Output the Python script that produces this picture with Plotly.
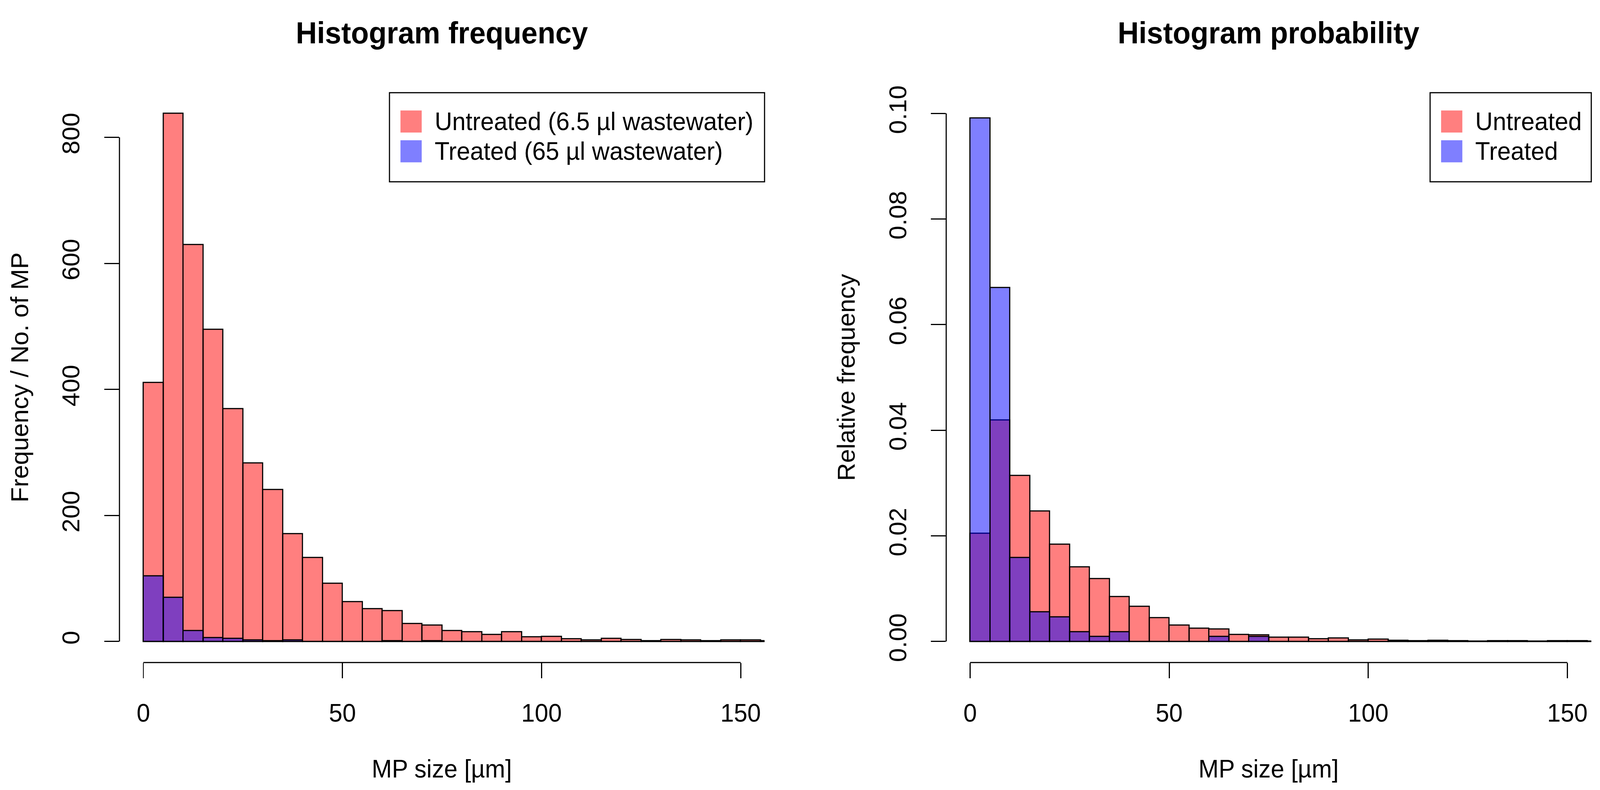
import plotly.graph_objects as go

W, H = 4219, 2022

# histogram bins, 5 µm wide (left edges)
bin_left = [0, 5, 10, 15, 20, 25, 30, 35, 40, 45, 50, 55, 60, 65, 70, 75,
            80, 85, 90, 95, 100, 105, 110, 115, 120, 125, 130, 135, 140, 145, 150, 155]

# counts (left panel)
untreated_freq = [411, 838, 630, 495, 369, 283, 241, 171, 133, 92, 63, 52, 49, 28, 26, 17,
                  15, 11, 15, 7, 8, 4, 2, 5, 3, 1, 3, 2, 1, 2, 2, 1]
treated_freq = [104, 70, 17, 6, 5, 2, 1, 2, 0, 0, 0, 0, 1, 0, 1, 0,
                0, 0, 0, 0, 0, 0, 0, 0, 0, 0, 0, 0, 0, 0, 0, 0]

# relative frequency (right panel)
untreated_prob = [0.0205, 0.0419, 0.0314, 0.0247, 0.0184, 0.0141, 0.0119, 0.0085,
                  0.0066, 0.0045, 0.0031, 0.0025, 0.0023, 0.0013, 0.0012, 0.0008,
                  0.0008, 0.0005, 0.0006, 0.0003, 0.0004, 0.0002, 0.0001, 0.0002,
                  0.0001, 0.00005, 0.0001, 0.0001, 0.00005, 0.0001, 0.0001, 0.00005]
treated_prob = [0.0991, 0.0670, 0.0159, 0.0056, 0.0046, 0.0018, 0.0009, 0.0018,
                0, 0, 0, 0, 0.0009, 0, 0.0009, 0,
                0, 0, 0, 0, 0, 0, 0, 0, 0, 0, 0, 0, 0, 0, 0, 0]

x_ticks = [0, 50, 100, 150]
freq_ticks = [0, 200, 400, 600, 800]
prob_ticks = [0, 0.02, 0.04, 0.06, 0.08, 0.10]

RED = "rgba(255,0,0,0.5)"
BLUE = "rgba(0,0,255,0.5)"
FONT = "Liberation Sans, Arial, Helvetica, sans-serif"
FS = 64
LW = 3


def px(x):
    return x / W


def py(y):
    return 1 - y / H


# plot regions (pixels)
left_dom = [px(315), px(2016)]
right_dom = [px(2495), px(4196)]
y_dom = [py(1693), py(221)]
x_range = [-6, 156]
freq_range = [-33.5, 871.5]
prob_range = [-0.004, 0.104]


def to_paper(dom, rng, v):
    return dom[0] + (v - rng[0]) / (rng[1] - rng[0]) * (dom[1] - dom[0])


fig = go.Figure()


def add_hist(vals, color, name, xa, ya):
    fig.add_trace(go.Bar(
        x=bin_left, y=vals, width=5, offset=0, name=name,
        marker=dict(color=color, line=dict(color="black", width=LW)),
        xaxis=xa, yaxis=ya, showlegend=False))


add_hist(untreated_freq, RED, "Untreated", "x", "y")
add_hist(treated_freq, BLUE, "Treated", "x", "y")
add_hist(untreated_prob, RED, "Untreated", "x2", "y2")
add_hist(treated_prob, BLUE, "Treated", "x2", "y2")

axis_common = dict(showline=False, showgrid=False, zeroline=False, ticks="outside",
                   ticklen=39, tickwidth=LW, tickcolor="black",
                   tickfont=dict(family=FONT, size=FS, color="black"))

fig.update_layout(
    width=W, height=H, autosize=False,
    margin=dict(l=0, r=0, t=0, b=0),
    paper_bgcolor="white", plot_bgcolor="white",
    barmode="overlay", bargap=0,
    font=dict(family=FONT, size=FS, color="black"),
    xaxis=dict(domain=left_dom, range=x_range, anchor="y", tickvals=x_ticks,
               ticklabelstandoff=34, **axis_common),
    yaxis=dict(domain=y_dom, range=freq_range, anchor="x", tickvals=freq_ticks,
               tickangle=-90, ticklabelstandoff=40, **axis_common),
    xaxis2=dict(domain=right_dom, range=x_range, anchor="y2", tickvals=x_ticks,
                ticklabelstandoff=34, **axis_common),
    yaxis2=dict(domain=y_dom, range=prob_range, anchor="x2", tickvals=prob_ticks,
                tickformat=".2f", tickangle=-90, ticklabelstandoff=40, **axis_common),
)

shapes = []
annotations = []

# R-style axis lines spanning first to last tick
for dom, rng, ydom, yrng, yt in [(left_dom, x_range, y_dom, freq_range, freq_ticks),
                                  (right_dom, x_range, y_dom, prob_range, prob_ticks)]:
    shapes.append(dict(type="line", xref="paper", yref="paper",
                       x0=to_paper(dom, rng, x_ticks[0]), x1=to_paper(dom, rng, x_ticks[-1]),
                       y0=ydom[0], y1=ydom[0], line=dict(color="black", width=LW)))
    shapes.append(dict(type="line", xref="paper", yref="paper",
                       x0=dom[0], x1=dom[0],
                       y0=to_paper(ydom, yrng, yt[0]), y1=to_paper(ydom, yrng, yt[-1]),
                       line=dict(color="black", width=LW)))


def legend_box(x0, x1, sw0, labels):
    shapes.append(dict(type="rect", xref="paper", yref="paper",
                       x0=px(x0), x1=px(x1), y0=py(452), y1=py(222),
                       line=dict(color="black", width=LW), fillcolor="white", layer="above"))
    for (label, color), (ya, yb) in zip(labels, [(268, 325), (345, 402)]):
        shapes.append(dict(type="rect", xref="paper", yref="paper",
                           x0=px(sw0), x1=px(sw0 + 56), y0=py(yb), y1=py(ya),
                           line=dict(width=0), fillcolor=color, layer="above"))
        annotations.append(dict(text=label, xref="paper", yref="paper",
                                x=px(sw0 + 88), y=py((ya + yb) / 2),
                                xanchor="left", yanchor="middle", showarrow=False,
                                font=dict(family=FONT, size=FS, color="black")))


legend_box(1027, 2016, 1056, [("Untreated (6.5 µl wastewater)", RED),
                               ("Treated (65 µl wastewater)", BLUE)])
legend_box(3771, 4196, 3800, [("Untreated", RED), ("Treated", BLUE)])

# titles and axis titles
for cx, title, ylab, lx in [(1165, "Histogram frequency", "Frequency / No. of MP", 52),
                            (3345, "Histogram probability", "Relative frequency", 2232)]:
    annotations.append(dict(text="<b>%s</b>" % title, xref="paper", yref="paper",
                            x=px(cx), y=py(68), xanchor="center", yanchor="middle",
                            showarrow=False, font=dict(family=FONT, size=77, color="black")))
    annotations.append(dict(text="MP size [µm]", xref="paper", yref="paper",
                            x=px(cx), y=py(1968), xanchor="center", yanchor="middle",
                            showarrow=False, font=dict(family=FONT, size=FS, color="black")))
    annotations.append(dict(text=ylab, xref="paper", yref="paper", textangle=-90,
                            x=px(lx), y=py(957), xanchor="center", yanchor="middle",
                            showarrow=False, font=dict(family=FONT, size=FS, color="black")))

fig.update_layout(shapes=shapes, annotations=annotations)

# fit the fixed-size figure into whatever viewport the browser really has
fit_js = """
document.documentElement.style.margin = '0';
document.documentElement.style.overflow = 'hidden';
document.body.style.margin = '0';
document.body.style.overflow = 'hidden';
var gd = document.getElementById('{plot_id}');
var sx = window.innerWidth / %d, sy = window.innerHeight / %d;
gd.style.transformOrigin = '0 0';
gd.style.transform = 'scale(' + sx + ',' + sy + ')';
""" % (W, H)

fig.write_html("out.html", post_script=fit_js, config={"displayModeBar": False})
